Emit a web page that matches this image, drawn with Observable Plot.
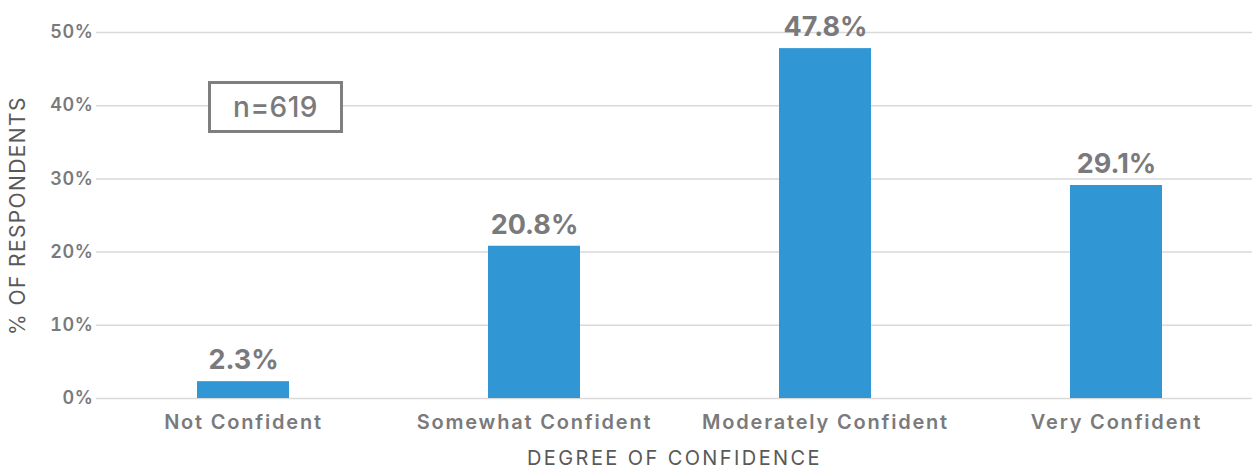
<!DOCTYPE html>
<html>
<head>
<meta charset="utf-8">
<script src="https://cdn.jsdelivr.net/npm/d3@7"></script>
<script src="https://cdn.jsdelivr.net/npm/@observablehq/plot@0.6"></script>
<style>
  html, body { margin: 0; padding: 0; background: #fff; }
  #wrap { position: relative; width: 1252px; height: 471px; font-family: Inter, "Open Sans", sans-serif; }
  #nbox { position: absolute; left: 208px; top: 81px; width: 129px; height: 46px; border: 3px solid #7f7f7f;
          display: flex; align-items: center; justify-content: center; font-size: 28px; font-weight: 500; letter-spacing: 0.5px; color: #7a7a7c; background: #fff; box-sizing: content-box; }
  .xaxis text { letter-spacing: 1.8px; }
  .yaxis text { letter-spacing: 0.6px; }
</style>
</head>
<body>
<div id="wrap"></div>
<script>
const categories = ["Not Confident", "Somewhat Confident", "Moderately Confident", "Very Confident"];
const values = [2.3, 20.8, 47.8, 29.1];
const yTicks = [0, 10, 20, 30, 40, 50];
const sampleLabel = "n=619";
const xTitle = "DEGREE OF CONFIDENCE";
const yTitle = "% OF RESPONDENTS";

const data = categories.map((c, i) => ({category: c, value: values[i]}));
const grey = "#7a7a7c";

const chart = Plot.plot({
  width: 1252,
  height: 471,
  marginTop: 32,
  marginBottom: 73,
  marginLeft: 96,
  marginRight: 0,
  style: {fontFamily: "Inter, 'Open Sans', sans-serif", background: "#fff"},
  x: {domain: categories, range: [96, 1263], paddingInner: 0.685, paddingOuter: 0.3425},
  y: {domain: [0, 50], range: [398, 32]},
  marks: [
    Plot.ruleY(yTicks, {stroke: "#d9d9d9", strokeWidth: 1.5}),
    Plot.barY(data, {x: "category", y: "value", fill: "#3097d4"}),
    Plot.text(data, {x: "category", y: "value", text: d => d.value.toFixed(1) + "%", dy: -21, fontSize: 27, fontWeight: 700, fill: grey}),
    Plot.axisY({ticks: yTicks, tickFormat: d => d + "%", tickSize: 0, tickPadding: 3, fontSize: 18, fontWeight: 600, fill: grey, label: null, className: "yaxis"}),
    Plot.axisX({tickSize: 0, tickPadding: 16, fontSize: 20, fontWeight: 600, fill: grey, label: null, className: "xaxis"}),
    Plot.text([xTitle], {frameAnchor: "bottom", dy: 66, fontSize: 20, fill: "#595959"}),
    Plot.text([yTitle], {frameAnchor: "left", textAnchor: "middle", dx: -78, rotate: -90, fontSize: 21, fill: "#595959"})
  ]
});
chart.querySelectorAll("text").forEach(t => {
  if (t.textContent === xTitle) t.setAttribute("letter-spacing", "2.4");
  if (t.textContent === yTitle) t.setAttribute("letter-spacing", "1.4");
});
const wrap = document.getElementById("wrap");
wrap.appendChild(chart);
const box = document.createElement("div");
box.id = "nbox";
box.textContent = sampleLabel;
wrap.appendChild(box);
</script>
</body>
</html>
